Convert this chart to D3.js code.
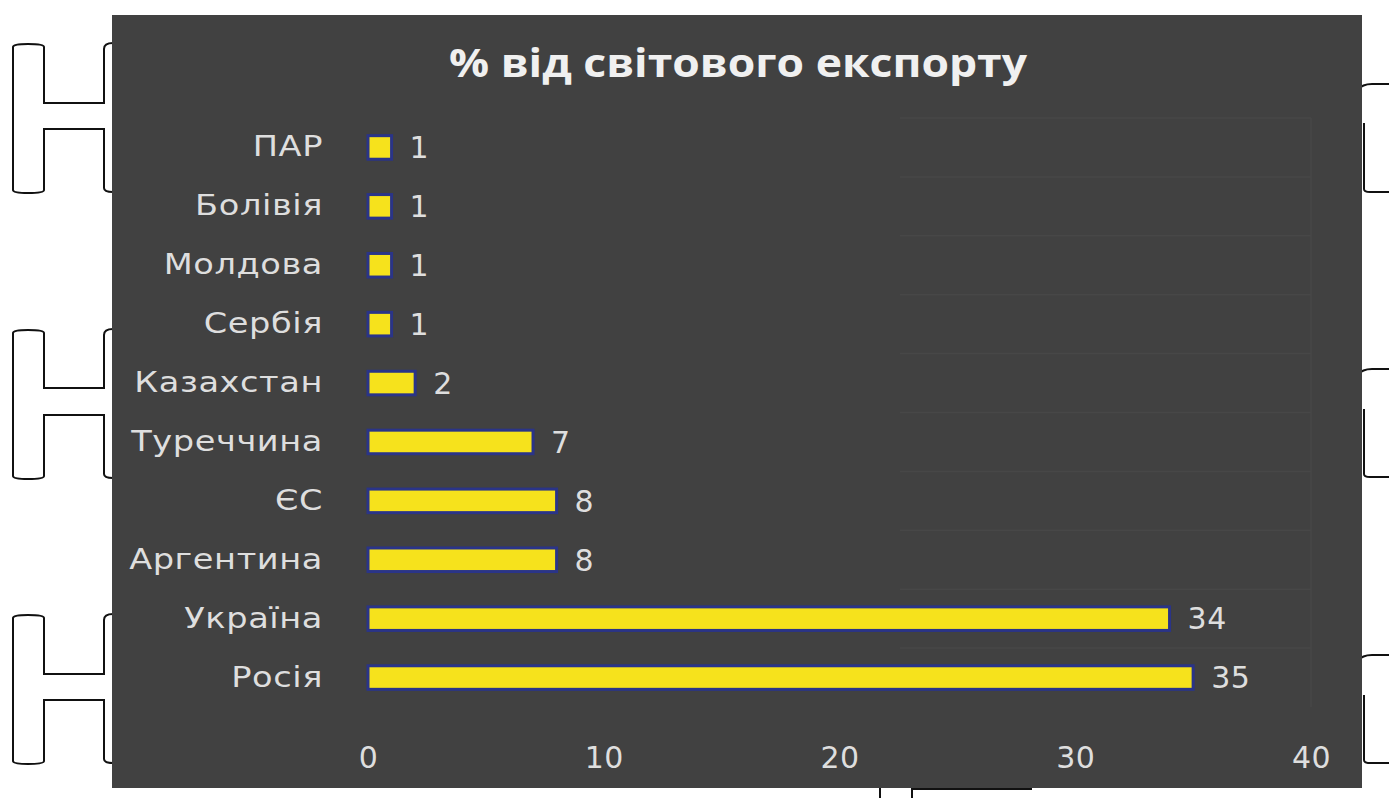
<!DOCTYPE html>
<html>
<head>
<meta charset="utf-8">
<script src="https://cdn.jsdelivr.net/npm/d3@7"></script>
<style>
  html, body { margin: 0; padding: 0; background: #ffffff; }
  svg { display: block; }
</style>
</head>
<body>
<svg id="chart" width="1389" height="798"></svg>
<script>
// Share of world exports, %
const categories = ["ПАР", "Болівія", "Молдова", "Сербія", "Казахстан", "Туреччина", "ЄС", "Аргентина", "Україна", "Росія"];
const values = [1, 1, 1, 1, 2, 7, 8, 8, 34, 35];
const xTicks = [0, 10, 20, 30, 40];
const title = "% від світового експорту";

const svg = d3.select("#chart");
const W = 1389, H = 798;
const panel = { x: 112, y: 15, w: 1250, h: 773 };
const labelFont = "'DejaVu Sans', Verdana, sans-serif";
const textColor = "#dedede";

svg.append("rect").attr("width", W).attr("height", H).attr("fill", "#ffffff");

// Decorative page brackets on the white margins
const deco = svg.append("g").attr("fill", "none").attr("stroke", "#111").attr("stroke-width", 2);
const leftBrackets = [
  { y0: 45, y1: 192, a1: 103, a2: 129 },
  { y0: 331, y1: 478, a1: 388, a2: 415 },
  { y0: 616, y1: 763, a1: 674, a2: 700 }
];
leftBrackets.forEach(b => {
  const p = d3.path();
  p.moveTo(113, b.y0 - 2);
  p.quadraticCurveTo(104, b.y0 - 2, 104, b.y0 + 4);
  p.lineTo(104, b.a1);
  p.lineTo(44, b.a1);
  p.lineTo(44, b.y0 + 2);
  p.quadraticCurveTo(44, b.y0 - 1, 28, b.y0 - 1);
  p.quadraticCurveTo(13, b.y0 - 1, 13, b.y0 + 2);
  p.lineTo(13, b.y1 - 2);
  p.quadraticCurveTo(13, b.y1 + 1, 28, b.y1 + 1);
  p.quadraticCurveTo(44, b.y1 + 1, 44, b.y1 - 2);
  p.lineTo(44, b.a2);
  p.lineTo(104, b.a2);
  p.lineTo(104, b.y1 - 4);
  p.quadraticCurveTo(104, b.y1, 113, b.y1);
  deco.append("path").attr("d", p.toString());
});
const rightBrackets = [
  { c: 84, v0: 123, v1: 192 },
  { c: 369, v0: 409, v1: 477 },
  { c: 655, v0: 695, v1: 763 }
];
rightBrackets.forEach(b => {
  const p = d3.path();
  p.moveTo(1358, b.c + 6);
  p.quadraticCurveTo(1362, b.c, 1372, b.c);
  p.lineTo(1389, b.c);
  deco.append("path").attr("d", p.toString());
  const q = d3.path();
  q.moveTo(1364, b.v0);
  q.lineTo(1364, b.v1 - 3);
  q.quadraticCurveTo(1364, b.v1, 1370, b.v1);
  q.lineTo(1389, b.v1);
  deco.append("path").attr("d", q.toString());
});
deco.append("path").attr("d", "M880,788 V798 M912,798 V789 H1032");

// Chart panel
svg.append("rect")
  .attr("x", panel.x).attr("y", panel.y)
  .attr("width", panel.w).attr("height", panel.h)
  .attr("fill", "#414141");

const x = d3.scaleLinear().domain([0, 40]).range([368, 1311]);
const y = d3.scaleBand().domain(categories).range([118, 707]).paddingInner(0.6).paddingOuter(0.3);

// Faint band separators on the right part of the plot
const gridG = svg.append("g").attr("stroke", "#474747").attr("stroke-width", 1.5);
categories.forEach(c => {
  const yy = y(c) - y.step() * y.paddingInner() / 2;
  gridG.append("line").attr("x1", 900).attr("x2", x(40)).attr("y1", yy).attr("y2", yy);
});
gridG.append("line").attr("x1", x(40)).attr("x2", x(40)).attr("y1", 118).attr("y2", 707);

// Title, fitted to its width
svg.append("text")
  .attr("x", 738).attr("y", 77)
  .attr("text-anchor", "middle")
  .attr("font-family", "'Open Sans', 'DejaVu Sans', sans-serif")
  .attr("font-weight", "bold")
  .attr("font-size", 39)
  .attr("textLength", 578)
  .attr("lengthAdjust", "spacingAndGlyphs")
  .attr("fill", "#f0f0f0")
  .text(title);

// Category axis
const labelPad = 45;
const yAxis = svg.append("g")
  .attr("transform", `translate(${x(0)},0)`)
  .call(d3.axisLeft(y).tickSize(0));
yAxis.select(".domain").remove();
yAxis.selectAll("text")
  .attr("x", null)
  .attr("transform", `translate(${-labelPad},0) scale(1.2,1)`)
  .attr("font-family", labelFont)
  .attr("font-size", 28)
  .attr("letter-spacing", 0.5)
  .attr("fill", textColor);

// Value axis
const xAxis = svg.append("g")
  .attr("transform", "translate(0,757)")
  .call(d3.axisBottom(x).tickValues(xTicks).tickSize(0).tickPadding(0));
xAxis.select(".domain").remove();
xAxis.selectAll("text")
  .attr("dy", "0.36em")
  .attr("font-family", labelFont)
  .attr("font-size", 30)
  .attr("letter-spacing", 0.5)
  .attr("fill", textColor);

// Bars
svg.append("g").selectAll("rect")
  .data(values)
  .join("rect")
  .attr("x", x(0))
  .attr("y", (d, i) => y(categories[i]))
  .attr("width", d => x(d) - x(0))
  .attr("height", y.bandwidth())
  .attr("fill", "#f6e21c")
  .attr("stroke", "#2a3488")
  .attr("stroke-width", 3);

// Value labels
svg.append("g").selectAll("text")
  .data(values)
  .join("text")
  .attr("x", d => x(d) + 18)
  .attr("y", (d, i) => y(categories[i]) + y.bandwidth() / 2)
  .attr("dy", "0.36em")
  .attr("font-family", labelFont)
  .attr("font-size", 30)
  .attr("letter-spacing", 0.5)
  .attr("fill", textColor)
  .text(d => d);
</script>
</body>
</html>
